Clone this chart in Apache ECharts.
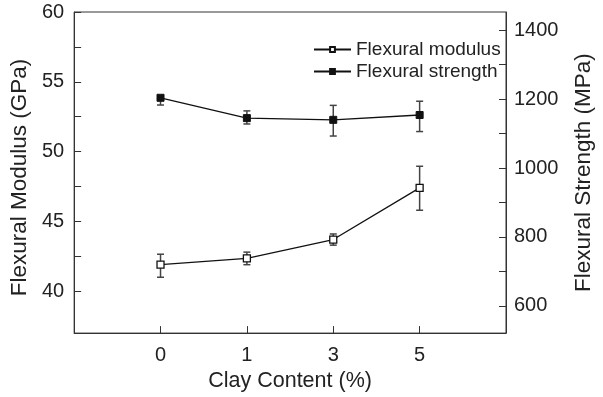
<!DOCTYPE html>
<html>
<head>
<meta charset="utf-8">
<script src="https://cdn.jsdelivr.net/npm/echarts@6/dist/echarts.min.js"></script>
<style>
  html, body { margin: 0; padding: 0; background: #fff; }
  #chart { width: 603px; height: 397px; }
</style>
</head>
<body>
<div id="chart"></div>
<script>
// Clay content levels (%)
const categories = ['0', '1', '3', '5'];

// Flexural modulus (GPa) with upper / lower error
const modulus = [41.9, 42.35, 43.7, 47.4];
const modulusErrUp = [0.75, 0.45, 0.4, 1.55];
const modulusErrDown = [0.9, 0.45, 0.4, 1.6];

// Flexural strength (MPa) with upper / lower error
const strength = [1204, 1145, 1140, 1154];
const strengthErrUp = [5, 21, 42, 40];
const strengthErrDown = [21, 17, 47, 48];

// Axis ticks and labels
const modulusTicks = [40, 42.5, 45, 47.5, 50, 52.5, 55, 57.5, 60];
const modulusLabels = [40, 45, 50, 55, 60];
const strengthTicks = [600, 700, 800, 900, 1000, 1100, 1200, 1300, 1400];
const strengthLabels = [600, 800, 1000, 1200, 1400];

const FONT = '"Liberation Sans", Arial, Helvetica, sans-serif';
const TEXT = '#222';
const AXIS = '#333';

function errorBars(name, yAxisIndex, center, up, down) {
  return {
    name: name,
    type: 'custom',
    yAxisIndex: yAxisIndex,
    silent: true,
    z: 1,
    data: center.map((v, i) => [i, v + up[i], v - down[i]]),
    renderItem(params, api) {
      const x = api.value(0);
      const top = api.coord([x, api.value(1)]);
      const bot = api.coord([x, api.value(2)]);
      const hw = 3.5;
      const style = { stroke: '#444', lineWidth: 1.5 };
      return {
        type: 'group',
        children: [
          { type: 'line', shape: { x1: top[0], y1: top[1], x2: bot[0], y2: bot[1] }, style },
          { type: 'line', shape: { x1: top[0] - hw, y1: top[1], x2: top[0] + hw, y2: top[1] }, style },
          { type: 'line', shape: { x1: bot[0] - hw, y1: bot[1], x2: bot[0] + hw, y2: bot[1] }, style }
        ]
      };
    }
  };
}

const chart = echarts.init(document.getElementById('chart'), null, { renderer: 'canvas' });

chart.setOption({
  animation: false,
  backgroundColor: '#fff',
  textStyle: { fontFamily: FONT, color: TEXT },
  grid: {
    left: 72.7, right: 90.3, top: 12, bottom: 63.5,
    show: true, borderColor: AXIS, borderWidth: 1, backgroundColor: 'transparent'
  },
  legend: {
    data: ['Flexural modulus', 'Flexural strength'],
    orient: 'vertical',
    left: 313, top: 39,
    padding: 0,
    itemWidth: 37, itemHeight: 6,
    itemGap: 1,
    textStyle: { fontFamily: FONT, fontSize: 19, lineHeight: 21, color: TEXT }
  },
  xAxis: {
    type: 'value',
    min: -1, max: 4,
    name: 'Clay Content (%)',
    nameLocation: 'middle',
    nameGap: 36,
    nameTextStyle: { fontFamily: FONT, fontSize: 21.5, color: TEXT },
    axisLine: { onZero: false, lineStyle: { color: AXIS, width: 1 } },
    axisTick: { inside: true, length: 7, customValues: [0, 1, 2, 3], lineStyle: { color: AXIS, width: 1 } },
    axisLabel: {
      customValues: [0, 1, 2, 3],
      formatter: v => categories[v],
      fontFamily: FONT, fontSize: 20, color: TEXT, margin: 12
    },
    splitLine: { show: false }
  },
  yAxis: [
    {
      type: 'value',
      position: 'left',
      min: 37, max: 60,
      name: 'Flexural Modulus (GPa)',
      nameLocation: 'middle',
      nameRotate: 90,
      nameGap: 42,
      nameTextStyle: { fontFamily: FONT, fontSize: 22.5, color: TEXT, padding: [0, 10, 0, 0] },
      axisLine: { show: true, onZero: false, lineStyle: { color: AXIS, width: 1 } },
      axisTick: { inside: true, length: 7, customValues: modulusTicks, lineStyle: { color: AXIS, width: 1 } },
      axisLabel: {
        customValues: modulusLabels, formatter: v => String(v),
        fontFamily: FONT, fontSize: 20, color: TEXT, margin: 10
      },
      splitLine: { show: false }
    },
    {
      type: 'value',
      position: 'right',
      min: 521, max: 1453,
      name: 'Flexural Strength (MPa)',
      nameLocation: 'middle',
      nameRotate: 90,
      nameGap: 66,
      nameTextStyle: { fontFamily: FONT, fontSize: 22.5, color: TEXT },
      axisLine: { show: true, onZero: false, lineStyle: { color: AXIS, width: 1 } },
      axisTick: { inside: true, length: 7, customValues: strengthTicks, lineStyle: { color: AXIS, width: 1 } },
      axisLabel: {
        customValues: strengthLabels, formatter: v => String(v),
        fontFamily: FONT, fontSize: 20, color: TEXT, margin: 8
      },
      splitLine: { show: false }
    }
  ],
  series: [
    errorBars('modulus error', 0, modulus, modulusErrUp, modulusErrDown),
    errorBars('strength error', 1, strength, strengthErrUp, strengthErrDown),
    {
      name: 'Flexural modulus',
      type: 'line',
      yAxisIndex: 0,
      z: 3,
      data: modulus.map((v, i) => [i, v]),
      symbol: 'rect',
      symbolSize: 7,
      lineStyle: { color: '#111', width: 1.3 },
      itemStyle: { color: '#fff', borderColor: '#111', borderWidth: 1.3 }
    },
    {
      name: 'Flexural strength',
      type: 'line',
      yAxisIndex: 1,
      z: 3,
      data: strength.map((v, i) => [i, v]),
      symbol: 'rect',
      symbolSize: 7,
      lineStyle: { color: '#111', width: 1.3 },
      itemStyle: { color: '#111', borderColor: '#111', borderWidth: 1 }
    }
  ]
});
</script>
</body>
</html>
